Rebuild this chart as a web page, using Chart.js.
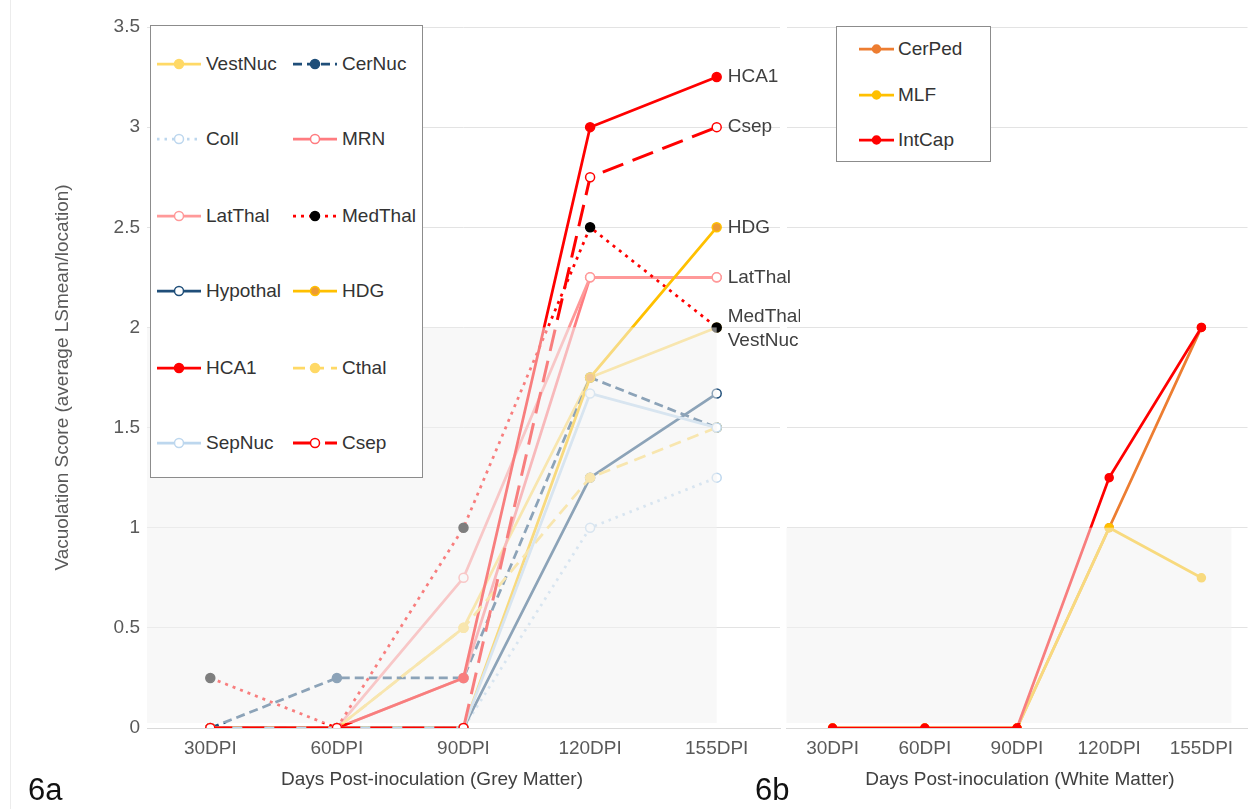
<!DOCTYPE html>
<html>
<head>
<meta charset="utf-8">
<script src="https://cdn.jsdelivr.net/npm/chart.js@4.4.1/dist/chart.umd.min.js"></script>
<style>
  html, body { margin: 0; padding: 0; background: #fff; overflow: hidden; }
  body { width: 1249px; height: 809px; position: relative; font-family: "Liberation Sans", Arial, sans-serif; }
  #greyWrap { position: absolute; left: 0; top: 0; width: 800px; height: 809px; }
  #whiteWrap { position: absolute; left: 781px; top: 0; width: 472px; height: 809px; }
  .legend { position: absolute; background: #fff; border: 1px solid #8c8c8c; box-sizing: border-box; overflow: hidden; }
  .item { position: absolute; height: 24px; display: flex; align-items: center; font-size: 19px; color: #333; white-space: nowrap; }
  .item svg { position: absolute; left: 0; top: 5px; }
  .item span { position: absolute; top: 1px; }
  .axisTitle { position: absolute; width: 600px; text-align: center; font-size: 19px; line-height: 1; color: #404040; }
  .panel { position: absolute; font-size: 31px; line-height: 1; color: #111; }
  .edge { position: absolute; left: 10px; top: 0; width: 1px; height: 809px; background: #ececec; }
</style>
</head>
<body>
<div class="edge"></div>
<div id="greyWrap"><canvas id="grey" width="800" height="809"></canvas></div>
<div id="whiteWrap"><canvas id="white" width="472" height="809"></canvas></div>
<div id="greyLegend" class="legend" style="left:150px; top:25px; width:273px; height:453px;"></div>
<div id="whiteLegend" class="legend" style="left:836px; top:26px; width:155px; height:136px;"></div>
<div class="axisTitle" style="left:132px; top:769px;">Days Post-inoculation (Grey Matter)</div>
<div class="axisTitle" style="left:720px; top:769px;">Days Post-inoculation (White Matter)</div>
<div class="panel" style="left:28px; top:774px;">6a</div>
<div class="panel" style="left:755px; top:774px;">6b</div>
<script>
// categories and tick labels
const dpi = ['30DPI', '60DPI', '90DPI', '120DPI', '155DPI'];
const yTickValues = [0, 0.5, 1, 1.5, 2, 2.5, 3, 3.5];
const yTickLabels = ['0', '0.5', '1', '1.5', '2', '2.5', '3', '3.5'];

// grey matter (6a)
const vestNuc  = [0, 0, 0.5, 1.75, 2];
const cerNuc   = [0, 0.25, 0.25, 1.75, 1.5];
const coll     = [0, 0, 0, 1, 1.25];
const mrn      = [0, 0, 0.25, 2.25, 2.25];
const latThal  = [0, 0, 0.75, 2.25, 2.25];
const medThal  = [0.25, 0, 1, 2.5, 2];
const hypothal = [0, 0, 0, 1.25, 1.67];
const hdg      = [0, 0, 0, 1.75, 2.5];
const hca1     = [0, 0, 0.25, 3, 3.25];
const cthal    = [0, 0, 0.5, 1.25, 1.5];
const sepNuc   = [0, 0, 0, 1.67, 1.5];
const csep     = [0, 0, 0, 2.75, 3];

// white matter (6b)
const cerPed = [0, 0, 0, 1, 2];
const mlf    = [0, 0, 0, 1, 0.75];
const intCap = [0, 0, 0, 1.25, 2];

Chart.defaults.font.family = "'Liberation Sans', Arial, sans-serif";

function series(label, data, color, extra) {
  return Object.assign({
    label, data,
    borderColor: color, backgroundColor: color,
    borderWidth: 2.75, tension: 0,
    pointRadius: 4.5, pointBorderWidth: 1.5,
    pointBorderColor: color, pointBackgroundColor: color
  }, extra || {});
}

const greySets = [
  series('VestNuc', vestNuc, '#FFD966'),
  series('CerNuc', cerNuc, '#1F4E79', { borderDash: [9, 5] }),
  series('Coll', coll, '#BDD7EE', { borderDash: [2.5, 5], pointBackgroundColor: '#fff' }),
  series('MRN', mrn, '#FF7C80', { pointBackgroundColor: '#fff' }),
  series('LatThal', latThal, '#FF9999', { pointBackgroundColor: '#fff' }),
  series('MedThal', medThal, '#FF0000', { borderDash: [3, 5], pointBackgroundColor: '#000', pointBorderColor: '#000' }),
  series('Hypothal', hypothal, '#1F4E79', { pointBackgroundColor: '#fff' }),
  series('HDG', hdg, '#FFC000', { pointBackgroundColor: '#ED9B33' }),
  series('HCA1', hca1, '#FF0000'),
  series('Cthal', cthal, '#FFD966', { borderDash: [12, 7] }),
  series('SepNuc', sepNuc, '#BDD7EE', { pointBackgroundColor: '#fff' }),
  series('Csep', csep, '#FF0000', { borderDash: [22, 10], borderWidth: 3, pointBackgroundColor: '#fff' })
];
// later series on top, as in the original
greySets.forEach((d, i) => { d.order = -i; });

const whiteSets = [
  series('CerPed', cerPed, '#ED7D31', { pointRadius: 4 }),
  series('MLF', mlf, '#FFC000', { pointRadius: 4 }),
  series('IntCap', intCap, '#FF0000', { pointRadius: 4 })
];
whiteSets.forEach((d, i) => { d.order = -i; });

// translucent band that fades the low part of each panel
const bandPlugin = {
  id: 'band',
  afterDatasetsDraw(chart, args, opts) {
    const { ctx, chartArea, scales: { x, y } } = chart;
    const top = y.getPixelForValue(opts.upTo);
    const bottom = y.getPixelForValue(0) - 5;
    const right = x.getPixelForValue(dpi.length - 1) + opts.extra;
    ctx.save();
    ctx.fillStyle = 'rgba(242,242,242,0.52)';
    ctx.fillRect(chartArea.left, top, right - chartArea.left, bottom - top);
    ctx.restore();
  }
};

// names written at the end of some lines
const endLabelPlugin = {
  id: 'endLabels',
  afterDatasetsDraw(chart, args, opts) {
    const { ctx, scales: { x, y } } = chart;
    ctx.save();
    ctx.font = "19px 'Liberation Sans', Arial, sans-serif";
    ctx.fillStyle = '#404040';
    ctx.textBaseline = 'middle';
    opts.items.forEach(([name, dy]) => {
      const ds = chart.data.datasets.find(d => d.label === name);
      const last = ds.data.length - 1;
      ctx.fillText(name, x.getPixelForValue(last) + 11, y.getPixelForValue(ds.data[last]) + dy);
    });
    ctx.restore();
  }
};

const tickFont = { size: 19 };

new Chart(document.getElementById('grey'), {
  type: 'line',
  data: { labels: dpi, datasets: greySets },
  options: {
    responsive: false,
    animation: false,
    layout: { padding: { top: 27, right: 20, left: 0, bottom: 0 } },
    plugins: {
      legend: { display: false },
      tooltip: { enabled: false },
      band: { upTo: 2, extra: 0 },
      endLabels: { items: [['HCA1', 0], ['Csep', 0], ['HDG', 0], ['LatThal', 0], ['MedThal', -11], ['VestNuc', 13]] }
    },
    scales: {
      x: {
        offset: true,
        grid: { display: false, drawTicks: false },
        border: { display: true, color: '#d9d9d9', width: 1 },
        ticks: { padding: 9, color: '#595959', font: tickFont, maxRotation: 0 },
        afterFit(s) { s.height = 81; }
      },
      y: {
        min: 0, max: 3.5,
        afterBuildTicks(s) { s.ticks = yTickValues.map(v => ({ value: v })); },
        ticks: { padding: 7, color: '#595959', font: tickFont, callback: v => yTickLabels[yTickValues.indexOf(v)] },
        grid: { color: '#e3e3e3', drawTicks: false },
        border: { display: false },
        title: {
          display: true,
          text: 'Vacuolation Score (average LSmean/location)',
          color: '#595959',
          font: { size: 19 },
          padding: { top: 51, bottom: 0 }
        },
        afterFit(s) { s.width = 147; }
      }
    }
  },
  plugins: [bandPlugin, endLabelPlugin]
});

new Chart(document.getElementById('white'), {
  type: 'line',
  data: { labels: dpi, datasets: whiteSets },
  options: {
    responsive: false,
    animation: false,
    layout: { padding: { top: 27, right: 0, left: 0, bottom: 0 } },
    plugins: {
      legend: { display: false },
      tooltip: { enabled: false },
      band: { upTo: 1, extra: 30 }
    },
    scales: {
      x: {
        offset: true,
        grid: { display: false, drawTicks: false },
        border: { display: true, color: '#d9d9d9', width: 1 },
        ticks: { padding: 9, color: '#595959', font: tickFont, maxRotation: 0 },
        afterFit(s) { s.height = 81; }
      },
      y: {
        min: 0, max: 3.5,
        afterBuildTicks(s) { s.ticks = yTickValues.map(v => ({ value: v })); },
        ticks: { display: false },
        grid: { color: '#e3e3e3', drawTicks: false },
        border: { display: false },
        afterFit(s) { s.width = 2; }
      }
    }
  },
  plugins: [bandPlugin]
});

// legends built from the datasets
function swatch(ds, w) {
  const dash = ds.borderDash ? ds.borderDash.join(',') : 'none';
  return '<svg width="' + w + '" height="14"><line x1="0" y1="7" x2="' + w + '" y2="7" stroke="' + ds.borderColor +
    '" stroke-width="' + ds.borderWidth + '" stroke-dasharray="' + dash + '"/><circle cx="' + (w / 2) + '" cy="7" r="' +
    ds.pointRadius + '" fill="' + ds.pointBackgroundColor + '" stroke="' + ds.pointBorderColor + '" stroke-width="' +
    ds.pointBorderWidth + '"/></svg>';
}

function buildLegend(el, sets, cols, colX, rowY, swW, labelX) {
  sets.forEach((ds, i) => {
    const item = document.createElement('div');
    item.className = 'item';
    item.style.left = colX[i % cols] + 'px';
    item.style.top = (rowY[Math.floor(i / cols)] - 12) + 'px';
    item.innerHTML = swatch(ds, swW) + '<span style="left:' + labelX + 'px">' + ds.label + '</span>';
    el.appendChild(item);
  });
}

buildLegend(document.getElementById('greyLegend'), greySets, 2, [6, 142], [38, 113, 190, 265, 342, 417], 44, 49);
buildLegend(document.getElementById('whiteLegend'), whiteSets, 1, [22], [22, 68, 113], 35, 39);
</script>
</body>
</html>
